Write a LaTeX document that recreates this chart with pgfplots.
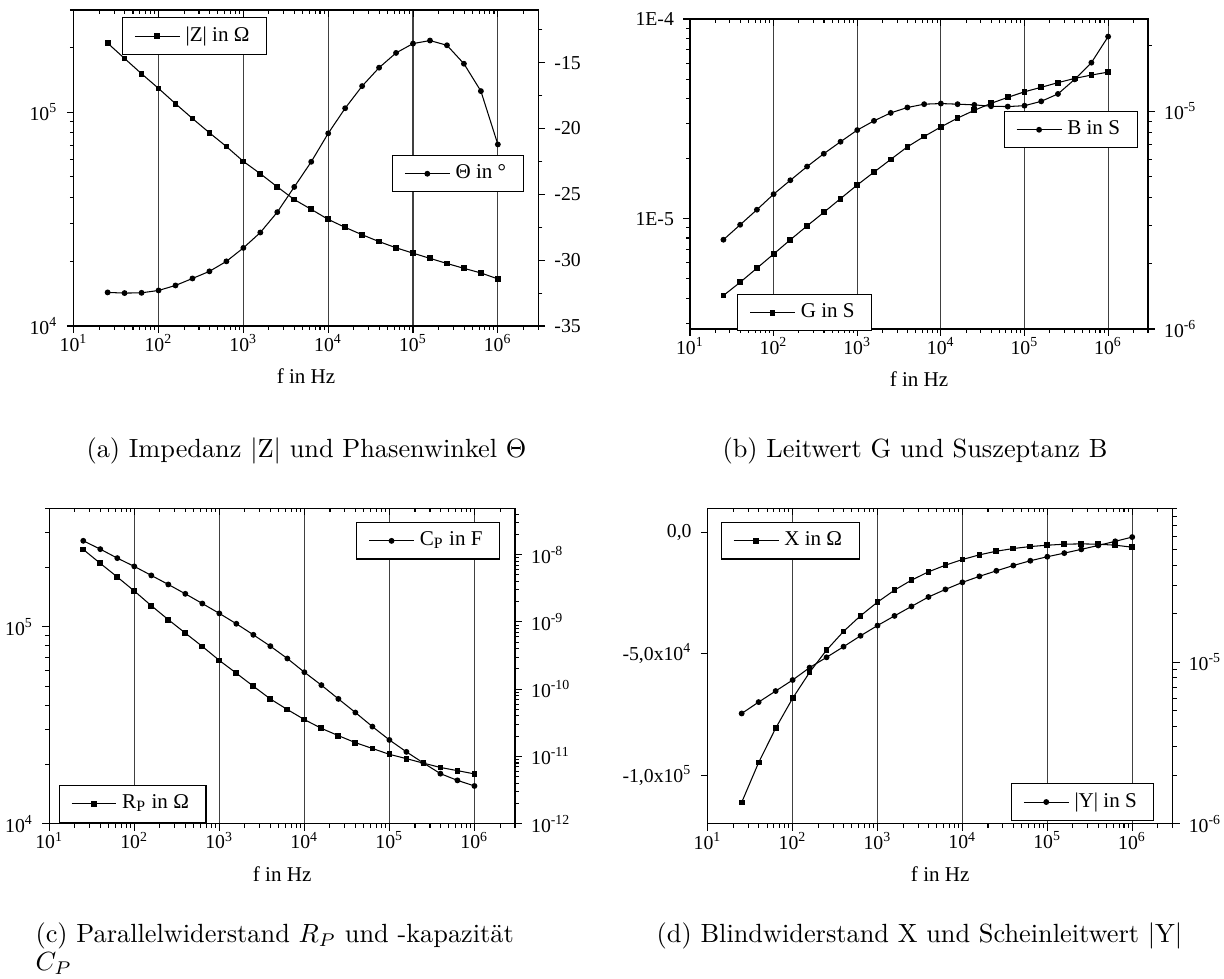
\documentclass[border=0pt]{standalone}
\usepackage{fontspec}
\usepackage{pgfplots}
\usepackage{pgfplotstable}
\pgfplotsset{compat=1.18}
\newfontfamily\tnr{Liberation Serif}
\newcommand{\tk}{\tnr\fontsize{7.5}{9}\selectfont}
\newcommand{\lb}{\tnr\fontsize{8}{9.6}\selectfont}
\newcommand{\sx}[1]{10\textsuperscript{#1}}

\pgfplotstableread{
f Z T
25.1 2.10e5 -32.45
39.8 1.78e5 -32.50
63.1 1.51e5 -32.48
100 1.29e5 -32.30
158.5 1.094e5 -31.92
251.2 9.33e4 -31.39
398.1 8.0e4 -30.85
631 6.90e4 -30.09
1000 5.88e4 -29.07
1585 5.15e4 -27.90
2512 4.47e4 -26.35
3981 3.90e4 -24.44
6310 3.51e4 -22.53
10000 3.15e4 -20.37
15849 2.89e4 -18.46
25119 2.67e4 -16.78
39811 2.48e4 -15.38
63096 2.32e4 -14.26
100000 2.19e4 -13.55
158489 2.07e4 -13.32
251189 1.96e4 -13.68
398107 1.86e4 -15.08
630957 1.77e4 -17.16
1000000 1.66e4 -21.21
}\dataA

\pgfplotstableread{
f G B
25.1 4.12e-6 2.57e-6
39.8 4.80e-6 3.01e-6
63.1 5.65e-6 3.53e-6
100 6.65e-6 4.16e-6
158.5 7.84e-6 4.82e-6
251.2 9.2e-6 5.57e-6
398.1 1.075e-5 6.38e-6
631 1.26e-5 7.24e-6
1000 1.475e-5 8.19e-6
1585 1.71e-5 9.03e-6
2512 1.98e-5 9.82e-6
3981 2.29e-5 1.04e-5
6310 2.58e-5 1.077e-5
10000 2.88e-5 1.084e-5
15849 3.19e-5 1.077e-5
25119 3.49e-5 1.069e-5
39811 3.78e-5 1.054e-5
63096 4.05e-5 1.05e-5
100000 4.32e-5 1.06e-5
158489 4.55e-5 1.11e-5
251189 4.80e-5 1.20e-5
398107 5.04e-5 1.40e-5
630957 5.24e-5 1.67e-5
1000000 5.42e-5 2.20e-5
}\dataB

\pgfplotstableread{
f R C
25.1 2.47e5 1.61e-8
39.8 2.10e5 1.21e-8
63.1 1.79e5 8.9e-9
100 1.52e5 6.7e-9
158.5 1.28e5 4.92e-9
251.2 1.087e5 3.61e-9
398.1 9.29e4 2.62e-9
631 7.95e4 1.88e-9
1000 6.75e4 1.34e-9
1585 5.81e4 9.4e-10
2512 4.99e4 6.44e-10
3981 4.30e4 4.37e-10
6310 3.80e4 2.86e-10
10000 3.38e4 1.79e-10
15849 3.05e4 1.15e-10
25119 2.80e4 7.18e-11
39811 2.58e4 4.5e-11
63096 2.41e4 2.78e-11
100000 2.25e4 1.76e-11
158489 2.14e4 1.17e-11
251189 2.03e4 8.0e-12
398107 1.93e4 5.55e-12
630957 1.86e4 4.41e-12
1000000 1.79e4 3.64e-12
}\dataC

\pgfplotstableread{
f X Y
25.1 -111248 4.82e-6
39.8 -94787 5.67e-6
63.1 -80658 6.64e-6
100 -68313 7.77e-6
158.5 -57613 9.27e-6
251.2 -48422 1.074e-5
398.1 -40741 1.25e-5
631 -34294 1.46e-5
1000 -28669 1.69e-5
1585 -23731 1.94e-5
2512 -19616 2.22e-5
3981 -16187 2.54e-5
6310 -13443 2.83e-5
10000 -11111 3.13e-5
15849 -9191 3.41e-5
25119 -7682 3.69e-5
39811 -6584 3.98e-5
63096 -5761 4.26e-5
100000 -5213 4.51e-5
158489 -4801 4.75e-5
251189 -4664 5.01e-5
398107 -4801 5.30e-5
630957 -5213 5.62e-5
1000000 -6036 5.97e-5
}\dataD

\pgfplotsset{
  scale only axis,
  axis line style={line width=0.5pt},
  major tick length=2.6pt, minor tick length=1.5pt, tick align=outside,
  tick style={black, line width=0.4pt},
  tick label style={font=\tk}, label style={font=\lb},
  legend style={draw=black, font=\lb, inner xsep=4.5pt, inner ysep=1.5pt, cells={anchor=west}},
  x tick label style={font=\tk, yshift=3pt},
}

\begin{document}
\begin{tikzpicture}
\path[use as bounding box] (0,0) rectangle (465.12pt,-371.64pt);

% ---------- (a) ----------
\begin{axis}[xmode=log, ymode=log, xmin=10, xmax=3e6, ymin=1e4, ymax=3e5,
  at={(28.01pt,-123.88pt)}, anchor=south west, width=176.55pt, height=120.08pt,
  xtick={10,100,1000,10000,100000,1000000},
  xticklabels={\sx{1},\sx{2},\sx{3},\sx{4},\sx{5},\sx{6}},
  minor xtick={20,30,40,50,60,70,80,90,200,300,400,500,600,700,800,900,2000,3000,4000,5000,6000,7000,8000,9000,20000,30000,40000,50000,60000,70000,80000,90000,200000,300000,400000,500000,600000,700000,800000,900000,2000000,3000000},
  xtick pos=left, ytick pos=left, xmajorgrids, major grid style={black!75, line width=0.4pt},
  xlabel={f in Hz}, xlabel style={at={(axis description cs:0.5,0)}, anchor=center, yshift=-19pt},
  ytick={1e4,1e5}, yticklabels={\sx{4},\sx{5}},
  minor ytick={2e4,3e4,4e4,5e4,6e4,7e4,8e4,9e4,2e5,3e5},
  legend style={at={(0.104,0.977)}, anchor=north west}]
\addplot[black, line width=0.4pt, mark=square*, mark size=0.9pt] table[x=f,y=Z]{\dataA};
\addlegendentry{\relax|Z| in Ω}
\end{axis}
\begin{axis}[xmode=log, xmin=10, xmax=3e6, ymin=-35, ymax=-11,
  at={(28.01pt,-123.88pt)}, anchor=south west, width=176.55pt, height=120.08pt,
  axis x line=none, axis y line*=right,
  ytick={-35,-30,-25,-20,-15}, yticklabels={-35,-30,-25,-20,-15},
  minor ytick={-32.5,-27.5,-22.5,-17.5,-12.5},
  legend style={at={(0.685,0.541)}, anchor=north west}]
\addplot[black, line width=0.4pt, mark=*, mark size=0.9pt] table[x=f,y=T]{\dataA};
\addlegendentry{Θ in °}
\end{axis}
\begin{axis}[xmode=log, xmin=10, xmax=3e6, ymin=-35, ymax=-11,
  at={(28.01pt,-123.88pt)}, anchor=south west, width=176.55pt, height=120.08pt,
  axis y line=none, axis x line*=top, tick align=inside,
  xtick={10,100,1000,10000,100000,1000000}, xticklabels={},
  minor xtick={20,30,40,50,60,70,80,90,200,300,400,500,600,700,800,900,2000,3000,4000,5000,6000,7000,8000,9000,20000,30000,40000,50000,60000,70000,80000,90000,200000,300000,400000,500000,600000,700000,800000,900000,2000000,3000000}]
\addplot[draw=none, forget plot] table[x=f,y=T]{\dataA};
\end{axis}

% ---------- (b) ----------
\begin{axis}[xmode=log, ymode=log, xmin=10, xmax=3e6, ymin=2.8e-6, ymax=1e-4,
  at={(262.2pt,-125.02pt)}, anchor=south west, width=174.04pt, height=117.8pt,
  xtick={10,100,1000,10000,100000,1000000},
  xticklabels={\sx{1},\sx{2},\sx{3},\sx{4},\sx{5},\sx{6}},
  minor xtick={20,30,40,50,60,70,80,90,200,300,400,500,600,700,800,900,2000,3000,4000,5000,6000,7000,8000,9000,20000,30000,40000,50000,60000,70000,80000,90000,200000,300000,400000,500000,600000,700000,800000,900000,2000000,3000000},
  xtick pos=left, ytick pos=left, xmajorgrids, major grid style={black!75, line width=0.4pt},
  xlabel={f in Hz}, xlabel style={at={(axis description cs:0.5,0)}, anchor=center, yshift=-19pt},
  ytick={1e-5,1e-4}, yticklabels={1E-5,1E-4},
  minor ytick={3e-6,4e-6,5e-6,6e-6,7e-6,8e-6,9e-6,2e-5,3e-5,4e-5,5e-5,6e-5,7e-5,8e-5,9e-5},
  legend style={at={(0.103,0.113)}, anchor=north west}]
\addplot[black, line width=0.4pt, mark=square*, mark size=0.9pt] table[x=f,y=G]{\dataB};
\addlegendentry{G in S}
\end{axis}
\begin{axis}[xmode=log, ymode=log, xmin=10, xmax=3e6, ymin=1e-6, ymax=2.65e-5,
  at={(262.2pt,-125.02pt)}, anchor=south west, width=174.04pt, height=117.8pt,
  axis x line=none, axis y line*=right,
  ytick={1e-6,1e-5}, yticklabels={\sx{-6},\sx{-5}},
  minor ytick={2e-6,3e-6,4e-6,5e-6,6e-6,7e-6,8e-6,9e-6,2e-5},
  legend style={at={(0.685,0.703)}, anchor=north west}]
\addplot[black, line width=0.4pt, mark=*, mark size=0.9pt] table[x=f,y=B]{\dataB};
\addlegendentry{B in S}
\end{axis}
\begin{axis}[xmode=log, ymode=log, xmin=10, xmax=3e6, ymin=1e-6, ymax=2.65e-5,
  at={(262.2pt,-125.02pt)}, anchor=south west, width=174.04pt, height=117.8pt,
  axis y line=none, axis x line*=top, tick align=inside,
  xtick={10,100,1000,10000,100000,1000000}, xticklabels={},
  minor xtick={20,30,40,50,60,70,80,90,200,300,400,500,600,700,800,900,2000,3000,4000,5000,6000,7000,8000,9000,20000,30000,40000,50000,60000,70000,80000,90000,200000,300000,400000,500000,600000,700000,800000,900000,2000000,3000000}]
\addplot[draw=none, forget plot] table[x=f,y=B]{\dataB};
\end{axis}

% ---------- (c) ----------
\begin{axis}[xmode=log, ymode=log, xmin=10, xmax=3e6, ymin=1e4, ymax=4e5,
  at={(18.73pt,-313.0pt)}, anchor=south west, width=176.97pt, height=119.85pt,
  xtick={10,100,1000,10000,100000,1000000},
  xticklabels={\sx{1},\sx{2},\sx{3},\sx{4},\sx{5},\sx{6}},
  minor xtick={20,30,40,50,60,70,80,90,200,300,400,500,600,700,800,900,2000,3000,4000,5000,6000,7000,8000,9000,20000,30000,40000,50000,60000,70000,80000,90000,200000,300000,400000,500000,600000,700000,800000,900000,2000000,3000000},
  xtick pos=left, ytick pos=left, xmajorgrids, major grid style={black!75, line width=0.4pt},
  xlabel={f in Hz}, xlabel style={at={(axis description cs:0.5,0)}, anchor=center, yshift=-19pt},
  ytick={1e4,1e5}, yticklabels={\sx{4},\sx{5}},
  minor ytick={2e4,3e4,4e4,5e4,6e4,7e4,8e4,9e4,2e5,3e5,4e5},
  legend style={at={(0.020,0.122)}, anchor=north west}]
\addplot[black, line width=0.4pt, mark=square*, mark size=0.9pt] table[x=f,y=R]{\dataC};
\addlegendentry{R\textsubscript{P} in Ω}
\end{axis}
\begin{axis}[xmode=log, ymode=log, xmin=10, xmax=3e6, ymin=1e-12, ymax=4.9e-8,
  at={(18.73pt,-313.0pt)}, anchor=south west, width=176.97pt, height=119.85pt,
  axis x line=none, axis y line*=right,
  ytick={1e-12,1e-11,1e-10,1e-9,1e-8}, yticklabels={\sx{-12},\sx{-11},\sx{-10},\sx{-9},\sx{-8}},
  minor ytick={2e-12,3e-12,4e-12,5e-12,6e-12,7e-12,8e-12,9e-12,2e-11,3e-11,4e-11,5e-11,6e-11,7e-11,8e-11,9e-11,2e-10,3e-10,4e-10,5e-10,6e-10,7e-10,8e-10,9e-10,2e-9,3e-9,4e-9,5e-9,6e-9,7e-9,8e-9,9e-9,2e-8,3e-8,4e-8},
  legend style={at={(0.659,0.956)}, anchor=north west}]
\addplot[black, line width=0.4pt, mark=*, mark size=0.9pt] table[x=f,y=C]{\dataC};
\addlegendentry{C\textsubscript{P} in F}
\end{axis}
\begin{axis}[xmode=log, ymode=log, xmin=10, xmax=3e6, ymin=1e-12, ymax=4.9e-8,
  at={(18.73pt,-313.0pt)}, anchor=south west, width=176.97pt, height=119.85pt,
  axis y line=none, axis x line*=top, tick align=inside,
  xtick={10,100,1000,10000,100000,1000000}, xticklabels={},
  minor xtick={20,30,40,50,60,70,80,90,200,300,400,500,600,700,800,900,2000,3000,4000,5000,6000,7000,8000,9000,20000,30000,40000,50000,60000,70000,80000,90000,200000,300000,400000,500000,600000,700000,800000,900000,2000000,3000000}]
\addplot[draw=none, forget plot] table[x=f,y=C]{\dataC};
\end{axis}

% ---------- (d) ----------
\begin{axis}[xmode=log, xmin=10, xmax=3e6, ymin=-1.2e5, ymax=1e4, scaled y ticks=false,
  at={(268.93pt,-313.0pt)}, anchor=south west, width=176.7pt, height=119.85pt,
  xtick={10,100,1000,10000,100000,1000000},
  xticklabels={\sx{1},\sx{2},\sx{3},\sx{4},\sx{5},\sx{6}},
  minor xtick={20,30,40,50,60,70,80,90,200,300,400,500,600,700,800,900,2000,3000,4000,5000,6000,7000,8000,9000,20000,30000,40000,50000,60000,70000,80000,90000,200000,300000,400000,500000,600000,700000,800000,900000,2000000,3000000},
  xtick pos=left, ytick pos=left, xmajorgrids, major grid style={black!75, line width=0.4pt},
  xlabel={f in Hz}, xlabel style={at={(axis description cs:0.5,0)}, anchor=center, yshift=-19pt},
  ytick={-100000,-50000,0}, yticklabels={-1{,}0x\sx{5},-5{,}0x\sx{4},0{,}0},
  legend style={at={(0.028,0.956)}, anchor=north west}]
\addplot[black, line width=0.4pt, mark=square*, mark size=0.9pt] table[x=f,y=X]{\dataD};
\addlegendentry{X in Ω}
\end{axis}
\begin{axis}[xmode=log, ymode=log, xmin=10, xmax=3e6, ymin=1e-6, ymax=9e-5,
  at={(268.93pt,-313.0pt)}, anchor=south west, width=176.7pt, height=119.85pt,
  axis x line=none, axis y line*=right,
  ytick={1e-6,1e-5}, yticklabels={\sx{-6},\sx{-5}},
  minor ytick={2e-6,3e-6,4e-6,5e-6,6e-6,7e-6,8e-6,9e-6,2e-5,3e-5,4e-5,5e-5,6e-5,7e-5,8e-5,9e-5},
  legend style={at={(0.652,0.129)}, anchor=north west}]
\addplot[black, line width=0.4pt, mark=*, mark size=0.9pt] table[x=f,y=Y]{\dataD};
\addlegendentry{\relax|Y| in S}
\end{axis}
\begin{axis}[xmode=log, ymode=log, xmin=10, xmax=3e6, ymin=1e-6, ymax=9e-5,
  at={(268.93pt,-313.0pt)}, anchor=south west, width=176.7pt, height=119.85pt,
  axis y line=none, axis x line*=top, tick align=inside,
  xtick={10,100,1000,10000,100000,1000000}, xticklabels={},
  minor xtick={20,30,40,50,60,70,80,90,200,300,400,500,600,700,800,900,2000,3000,4000,5000,6000,7000,8000,9000,20000,30000,40000,50000,60000,70000,80000,90000,200000,300000,400000,500000,600000,700000,800000,900000,2000000,3000000}]
\addplot[draw=none, forget plot] table[x=f,y=Y]{\dataD};
\end{axis}

% ---------- captions ----------
\node[font=\fontsize{10}{12}\selectfont, anchor=base, inner sep=0pt] at (116.47pt,-173.7pt) {(a) Impedanz |Z| und Phasenwinkel $\Theta$};
\node[font=\fontsize{10}{12}\selectfont, anchor=base, inner sep=0pt] at (347.7pt,-173.7pt) {(b) Leitwert G und Suszeptanz B};
\node[font=\fontsize{10}{12}\selectfont, anchor=base west, inner sep=0pt] at (13.3pt,-358.3pt) {(c) Parallelwiderstand $R_P$ und -kapazität};
\node[font=\fontsize{10}{12}\selectfont, anchor=base west, inner sep=0pt] at (13.3pt,-368.8pt) {$C_P$};
\node[font=\fontsize{10}{12}\selectfont, anchor=base, inner sep=0pt] at (349.4pt,-358.3pt) {(d) Blindwiderstand X und Scheinleitwert |Y|};
\end{tikzpicture}
\end{document}
